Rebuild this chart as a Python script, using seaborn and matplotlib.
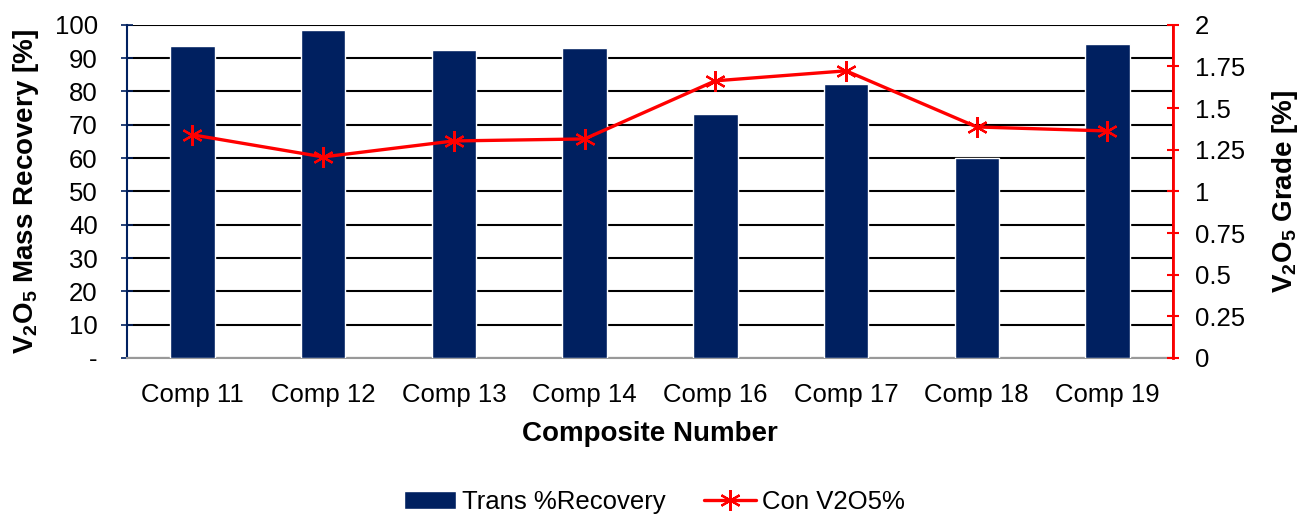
import matplotlib
matplotlib.use("Agg")
import matplotlib.pyplot as plt
import seaborn as sns
import pandas as pd

# data
composites = ["Comp 11", "Comp 12", "Comp 13", "Comp 14", "Comp 16", "Comp 17", "Comp 18", "Comp 19"]
recovery = [93.7, 98.5, 92.6, 93.1, 73.3, 82.3, 60.0, 94.3]
grade = [1.34, 1.207, 1.303, 1.315, 1.664, 1.724, 1.387, 1.363]

left_ticks = [0, 10, 20, 30, 40, 50, 60, 70, 80, 90, 100]
left_labels = ["-", "10", "20", "30", "40", "50", "60", "70", "80", "90", "100"]
right_ticks = [0, 0.25, 0.5, 0.75, 1, 1.25, 1.5, 1.75, 2]
right_labels = ["0", "0.25", "0.5", "0.75", "1", "1.25", "1.5", "1.75", "2"]

navy = "#002060"
red = "#ff0000"

sns.set_theme(style="white")
plt.rcParams["font.family"] = ["Liberation Sans", "DejaVu Sans"]
plt.rcParams["text.color"] = "black"
plt.rcParams["axes.labelcolor"] = "black"
plt.rcParams["xtick.color"] = "black"
plt.rcParams["ytick.color"] = "black"
plt.rcParams["mathtext.fontset"] = "custom"
plt.rcParams["mathtext.bf"] = "Liberation Sans:bold"
plt.rcParams["mathtext.rm"] = "Liberation Sans:bold"
plt.rcParams["mathtext.default"] = "bf"

df = pd.DataFrame({"comp": composites, "recovery": recovery, "grade": grade})

fig = plt.figure(figsize=(13.09, 5.18), dpi=100)
ax = fig.add_axes([0.097, 0.309, 0.799, 0.643])

sns.barplot(data=df, x="comp", y="recovery", color=navy, saturation=1,
            width=0.34, ax=ax, zorder=3, label="Trans %Recovery")
ax.set_ylim(0, 100)
ax.set_yticks(left_ticks)
ax.set_yticklabels(left_labels)
ax.yaxis.grid(True, color="black", linewidth=1.5, zorder=0)
ax.set_axisbelow(True)
ax.set_xlim(-0.5, len(composites) - 0.5)

ax.spines["top"].set_visible(False)
ax.spines["left"].set_color(navy)
ax.spines["left"].set_linewidth(1.5)
ax.spines["bottom"].set_color("#999999")
ax.spines["bottom"].set_linewidth(1.5)
ax.tick_params(axis="y", direction="inout", length=8, width=1.2, color=navy,
               labelsize=18.5, labelcolor="black", left=True, pad=17)
ax.tick_params(axis="x", labelsize=18.5, labelcolor="black", bottom=False, pad=12)
ax.set_xlabel("Composite Number", fontsize=20, fontweight="bold", labelpad=10)
ax.set_ylabel("V$_2$O$_5$ Mass Recovery [%]", fontsize=20, fontweight="bold")
ax.yaxis.set_label_coords(-0.082, 0.5)

ax2 = ax.twinx()
ax2.plot(range(len(composites)), df["grade"], color=red, linewidth=2.4,
         marker=(6, 2, 0), markersize=15, markeredgewidth=1.6,
         markeredgecolor=red, label="Con V2O5%", zorder=4)
ax2.set_ylim(0, 2)
ax2.set_yticks(right_ticks)
ax2.set_yticklabels(right_labels)
for s in ["top", "left", "bottom"]:
    ax2.spines[s].set_visible(False)
ax2.spines["right"].set_color(red)
ax2.spines["right"].set_linewidth(2)
ax2.tick_params(axis="y", direction="inout", length=8, width=1.5, color=red,
                labelsize=18.5, labelcolor="black", right=True, pad=12)
ax2.set_ylabel("V$_2$O$_5$ Grade [%]", fontsize=20, fontweight="bold")
ax2.yaxis.set_label_coords(1.093, 0.5)

h1, l1 = ax.get_legend_handles_labels()
h2, l2 = ax2.get_legend_handles_labels()
if ax.get_legend() is not None:
    ax.get_legend().remove()
fig.legend(h1 + h2, l1 + l2, loc="center", bbox_to_anchor=(0.5, 0.03),
           ncol=2, frameon=False, fontsize=18.5, handlelength=2.0,
           handletextpad=0.25, columnspacing=1.5)

fig.savefig("out.png", dpi=100)
